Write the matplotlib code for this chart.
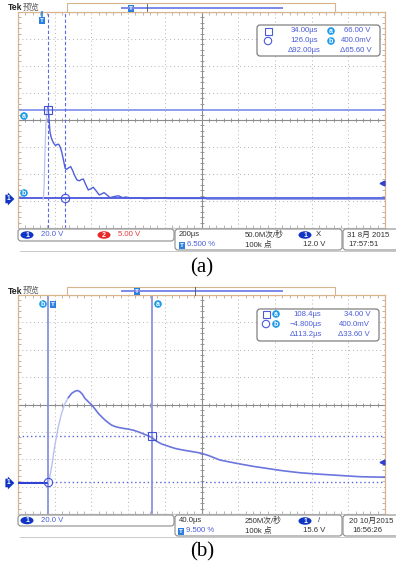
import matplotlib
matplotlib.use('Agg')
import matplotlib.pyplot as plt
from matplotlib.patches import FancyBboxPatch, Rectangle, Ellipse, Circle
import numpy as np

plt.rcParams['font.family'] = ['Liberation Sans', 'Noto Sans CJK SC', 'DejaVu Sans']

# ---- data read off the two scope screens ----
# (a) 200us/div, 20 V/div, trigger at 6.5 %
t_a = [-130, 8, 12, 16, 22, 28, 33, 38, 44, 50, 58, 66, 75, 84, 92, 100, 108, 116, 122, 127,
       135, 145, 157, 168, 180, 192, 205, 216, 226, 238, 253, 266, 280, 296, 313, 326, 339, 355,
       371, 394, 417, 440, 460, 480, 520, 560, 620, 700, 900, 1100, 1400, 1870]
v_a = [0, 0, 8, 30, 55, 66, 68, 62, 50, 46, 43, 41, 39.5, 40.5, 40.5, 38.5, 35, 30, 26, 22.7,
       22, 23, 24, 21, 17, 14, 13.5, 14.5, 14.8, 11, 6.7, 7.5, 8.7, 6, 3, 3.8, 4.7, 3,
       1, 1.8, 2.4, 1, 1.5, 0.4, 0.9, 0.3, 0.6, 0.4, 0.4, 0.4, 0.4, 0.4]
cur_t_a = [34.0, 126.0]
cur_v_a = [66.0, 0.4]
trig_a = 12.0

# (b) 40us/div, 20 V/div, trigger at 9.5 %
t_b = [-38, -4.8, -1.3, 2, 5.9, 9.5, 13.2, 17, 20.5, 24, 27, 29.6, 32, 35, 38.5, 42.3, 46, 49.5,
       53, 56.8, 60.5, 64, 68, 71.3, 77, 82, 88, 93, 99, 104, 108.4, 113, 118.6, 126, 133, 140,
       147.6, 155, 162, 170, 182, 193, 204, 218, 233, 250, 269, 287, 306, 320, 335, 348, 362]
v_b = [0, 0, 11.9, 27, 41, 51, 58, 62.5, 65.5, 67, 67.6, 66.6, 65, 61.8, 59.5, 57, 54, 50.9,
       48.5, 46, 44, 42.3, 41.2, 40.6, 39.9, 39.4, 38.5, 37.4, 35.8, 34.5, 33, 30.5, 28.5, 26.8,
       25.3, 24.3, 23.4, 22.6, 21.7, 20, 16.8, 15.3, 13.9, 12.2, 10.7, 9, 7.5, 6.6, 5.8, 5.2,
       4.6, 4.4, 4.2]
cur_t_b = [108.4, -4.8]
cur_v_b = [34.0, 0.4]
trig_b = 15.6

W, H = 396, 572
TRACE = '#4f5fdc'
FAINT = '#b9c0f2'
CURS = '#7282ea'
BLUE_TXT = '#4a5cd8'
TAN = '#d8b48c'
GRIDC = '#b4b4b4'
MARK = '#1e9ae8'


def screen_axes(top, bottom):
    return fig.add_axes([18 / W, 1 - bottom / H, 367 / W, (bottom - top) / H])


def draw_screen(ax, t0, tdiv, gnd_div, vdiv):
    v0 = -(4 - gnd_div) * vdiv
    ax.set_xlim(t0, t0 + 10 * tdiv)
    ax.set_ylim(v0, v0 + 8 * vdiv)
    for k in range(1, 10):
        x = t0 + k * tdiv
        if k == 5:
            ax.axvline(x, color='#8c8c8c', lw=0.8, zorder=1)
        else:
            ax.axvline(x, color=GRIDC, lw=0.7, ls=(0, (1, 3)), zorder=1)
    for k in range(1, 8):
        y = v0 + k * vdiv
        if k == 4:
            ax.axhline(y, color='#8c8c8c', lw=0.8, zorder=1)
        else:
            ax.axhline(y, color=GRIDC, lw=0.7, ls=(0, (1, 3)), zorder=1)
    # small ticks on the centre cross
    xs = np.arange(t0, t0 + 10 * tdiv, tdiv / 5)
    ax.plot(xs, np.full(len(xs), v0 + 4 * vdiv), '|', ms=3, color='#8c8c8c', mew=0.6, zorder=1)
    ys = np.arange(v0, v0 + 8 * vdiv, vdiv / 5)
    ax.plot(np.full(len(ys), t0 + 5 * tdiv), ys, '_', ms=3, color='#8c8c8c', mew=0.6, zorder=1)
    ax.set_xticks(np.arange(t0, t0 + 10.01 * tdiv, tdiv))
    ax.set_xticks(xs, minor=True)
    ax.set_yticks(np.arange(v0, v0 + 8.01 * vdiv, vdiv))
    ax.set_yticks(ys, minor=True)
    ax.tick_params(which='both', direction='in', top=True, right=True, labelbottom=False,
                   labelleft=False, color='#a8a8a8', width=0.6)
    ax.tick_params(which='major', length=0)
    ax.tick_params(which='minor', length=2.5)
    for s in ax.spines.values():
        s.set_color(TAN)
        s.set_linewidth(0.9)
    ax.spines['bottom'].set_color('#c8c8c8')


fig = plt.figure(figsize=(W / 100, H / 100), dpi=100)

# ---------- panel (a) ----------
ax_a = screen_axes(12, 228)
draw_screen(ax_a, -130, 200, (199 - 120) / 27, 20)
ax_a.axhline(cur_v_a[0], color=CURS, lw=1.1, zorder=2)
ax_a.axhline(cur_v_a[1], color='#3848d8', lw=1.2, zorder=2)
for t in cur_t_a:
    ax_a.axvline(t, color='#5a6ae0', lw=0.8, ls=(0, (3, 2)), zorder=2)
ax_a.plot(t_a[1:7], v_a[1:7], color=FAINT, lw=0.9, zorder=3)
ax_a.plot(t_a[6:], v_a[6:], color=TRACE, lw=1.0, zorder=3)
tail = [i for i, t in enumerate(t_a) if t >= 850]
ax_a.plot([t_a[i] for i in tail], [v_a[i] for i in tail], color='#6a78e4', lw=2.0, alpha=0.7, zorder=3)
ax_a.plot(cur_t_a[0], cur_v_a[0], 's', ms=6, mfc='none', mec='#4050d8', mew=0.8, zorder=4)
ax_a.plot(cur_t_a[1], cur_v_a[1], 'o', ms=6, mfc='none', mec='#4050d8', mew=0.8, zorder=4)
ax_a.plot(1870 - 16, trig_a, '<', ms=3.5, color='#3040d0', zorder=4)

# ---------- panel (b) ----------
ax_b = screen_axes(295, 514)
draw_screen(ax_b, -38, 40, (483 - 404.5) / 27.375, 20)
for v in cur_v_b:
    ax_b.axhline(v, color='#5565e0', lw=1.0, ls=(0, (1, 2)), zorder=2)
for t in cur_t_b:
    ax_b.axvline(t, color='#8a92e2', lw=1.3, zorder=2)
ax_b.plot(t_b[:2], v_b[:2], color='#3040d4', lw=1.5, zorder=3)
ax_b.plot(t_b[1:8], v_b[1:8], color=FAINT, lw=1.0, zorder=3)
ax_b.plot(t_b[7:], v_b[7:], color='#6a76de', lw=1.2, zorder=3)
ax_b.plot(cur_t_b[0], cur_v_b[0], 's', ms=6, mfc='none', mec='#4050d8', mew=0.8, zorder=4)
ax_b.plot(cur_t_b[1], cur_v_b[1], 'o', ms=6, mfc='none', mec='#4050d8', mew=0.8, zorder=4)
ax_b.plot(362 - 3.2, trig_b, '<', ms=3.5, color='#3040d0', zorder=4)

# ---------- screen chrome in pixel coordinates ----------
ov = fig.add_axes([0, 0, 1, 1])
ov.set_xlim(0, W)
ov.set_ylim(H, 0)
ov.axis('off')

FS = 5.6


def rbox(x0, y0, x1, y1, ec='#8c8c8c'):
    ov.add_patch(FancyBboxPatch((x0, y0), x1 - x0, y1 - y0,
                                boxstyle='round,pad=0,rounding_size=3', fc='white', ec=ec, lw=0.8))


def oval(x, y, txt, fc):
    ov.add_patch(Ellipse((x, y), 13, 7.5, fc=fc, ec='none'))
    ov.text(x, y + 0.3, txt, color='white', fontsize=5, ha='center', va='center', fontweight='bold')


def letter(x, y, txt):
    ov.add_patch(Circle((x, y), 3.8, fc=MARK, ec='none'))
    ov.text(x, y + 0.2, txt, color='white', fontsize=5, ha='center', va='center', fontweight='bold')


def tmark(x, y):
    ov.add_patch(Rectangle((x - 2.6, y - 3.5), 5.2, 7, fc='#2a7fe0', ec='none'))
    ov.text(x, y + 0.3, 'T', color='white', fontsize=4.6, ha='center', va='center', fontweight='bold')


def gnd(y):
    ov.text(8, y, '1', color='white', fontsize=4.8, ha='center', va='center', fontweight='bold',
            bbox=dict(boxstyle='rarrow,pad=0.12', fc='#1034c4', ec='none'))


def sq(x, y):
    ov.add_patch(Rectangle((x - 3.5, y - 3.5), 7, 7, fc='none', ec=BLUE_TXT, lw=0.8))


def ring(x, y):
    ov.add_patch(Circle((x, y), 3.7, fc='none', ec=BLUE_TXT, lw=0.8))


def header(y0, tpos, tick):
    ov.text(8, y0 + 4.5, 'Tek', fontsize=6.2, fontweight='bold', va='center', color='#202020')
    ov.text(23, y0 + 4.5, '预览', fontsize=6, va='center', color='#606060')
    ov.add_patch(Rectangle((67, y0), 268, 8.5, fc='white', ec=TAN, lw=0.8))
    ov.plot([122, 282], [y0 + 4.5, y0 + 4.5], color='#7b88e8', lw=1.4)
    ov.plot([tick, tick], [y0 + 0.5, y0 + 8], color='#505050', lw=0.6)
    tmark(tpos, y0 + 5)


# panel (a) chrome
header(3, 131, 147)
tmark(42, 20)
ov.plot([42, 42], [12, 16], color='#2a7fe0', lw=1.2)
letter(24, 116, 'a')
letter(24, 193, 'b')
gnd(199)

rbox(257, 25, 380, 56, ec='#707070')
sq(268, 31)
ring(268, 41)
ov.text(318, 31, '34.00µs', fontsize=FS, color=BLUE_TXT, ha='right', va='center')
ov.text(318, 41, '126.0µs', fontsize=FS, color=BLUE_TXT, ha='right', va='center')
ov.text(321, 51, 'Δ92.00µs', fontsize=FS, color=BLUE_TXT, ha='right', va='center')
letter(331, 31, 'a')
letter(331, 41, 'b')
ov.text(370, 31, '66.00 V', fontsize=FS, color=BLUE_TXT, ha='right', va='center')
ov.text(372, 41, '400.0mV', fontsize=FS, color=BLUE_TXT, ha='right', va='center')
ov.text(372, 51, 'Δ65.60 V', fontsize=FS, color=BLUE_TXT, ha='right', va='center')

rbox(18, 229, 174, 241)
oval(27, 235, '1', '#1034c4')
ov.text(41, 235, '20.0 V', fontsize=FS, color=BLUE_TXT, va='center')
oval(104, 235, '2', '#e82828')
ov.text(118, 235, '5.00 V', fontsize=FS, color='#e83838', va='center')
rbox(175, 229, 342, 250)
ov.text(179, 235, '200µs', fontsize=FS, color='#303030', va='center')
ov.text(245, 235, '50.0M次/秒', fontsize=FS, color='#303030', va='center')
oval(305, 235, '1', '#1034c4')
ov.text(316, 235, 'X', fontsize=FS, color='#303030', va='center')
tmark(182, 245)
ov.text(187, 245, '6.500 %', fontsize=FS, color=BLUE_TXT, va='center')
ov.text(245, 245, '100k 点', fontsize=FS, color='#303030', va='center')
ov.text(303, 245, '12.0 V', fontsize=FS, color='#303030', va='center')
rbox(343, 229, 400, 250)
ov.text(347, 235, '31 8月 2015', fontsize=FS, color='#303030', va='center')
ov.text(348, 245, '17:57:51', fontsize=FS, color='#303030', va='center')
ov.plot([20, 396], [251, 251], color='#c0c0c0', lw=0.6)

fig.text(202 / W, 1 - 268 / H, '(a)', fontsize=15, family='Liberation Serif',
         ha='center', va='center')

# panel (b) chrome
header(286.5, 137, 195)
tmark(53, 304)
letter(43, 304, 'b')
letter(158, 304, 'a')
gnd(483)

rbox(257, 309, 379, 341, ec='#707070')
sq(266, 314)
ring(266, 324)
letter(276, 314, 'a')
letter(276, 324, 'b')
ov.text(293, 314, '108.4µs', fontsize=FS, color=BLUE_TXT, va='center')
ov.text(290, 324, '−4.800µs', fontsize=FS, color=BLUE_TXT, va='center')
ov.text(290, 334, 'Δ113.2µs', fontsize=FS, color=BLUE_TXT, va='center')
ov.text(370, 314, '34.00 V', fontsize=FS, color=BLUE_TXT, ha='right', va='center')
ov.text(370, 324, '400.0mV', fontsize=FS, color=BLUE_TXT, ha='right', va='center')
ov.text(370, 334, 'Δ33.60 V', fontsize=FS, color=BLUE_TXT, ha='right', va='center')

rbox(18, 515, 174, 526)
oval(27, 520.5, '1', '#1034c4')
ov.text(41, 520.5, '20.0 V', fontsize=FS, color=BLUE_TXT, va='center')
rbox(175, 515, 342, 536)
ov.text(179, 521, '40.0µs', fontsize=FS, color='#303030', va='center')
ov.text(245, 521, '250M次/秒', fontsize=FS, color='#303030', va='center')
oval(305, 521, '1', '#1034c4')
ov.text(318, 521, '/', fontsize=FS, color='#303030', va='center')
tmark(181, 531)
ov.text(186, 531, '9.500 %', fontsize=FS, color=BLUE_TXT, va='center')
ov.text(245, 531, '100k 点', fontsize=FS, color='#303030', va='center')
ov.text(303, 531, '15.6 V', fontsize=FS, color='#303030', va='center')
rbox(343, 515, 400, 536)
ov.text(349, 521, '20 10月2015', fontsize=FS, color='#303030', va='center')
ov.text(352, 531, '16:56:26', fontsize=FS, color='#303030', va='center')
ov.plot([20, 396], [537, 537], color='#c0c0c0', lw=0.6)

fig.text(202 / W, 1 - 552 / H, '(b)', fontsize=15, family='Liberation Serif',
         ha='center', va='center')

plt.savefig('out.png', dpi=100)
plt.close()
